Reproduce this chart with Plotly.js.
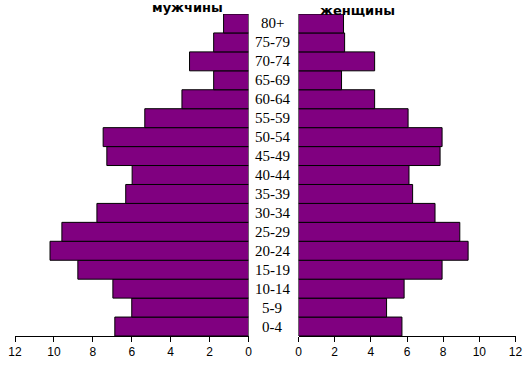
<!DOCTYPE html>
<html>
<head>
<meta charset="utf-8">
<script src="https://cdn.plot.ly/plotly-3.0.1.min.js"></script>
<style>html,body{margin:0;padding:0;background:#fff;}#chart{width:529px;height:369px;}</style>
</head>
<body>
<div id="chart"></div>
<script>
const ageGroups = ["0-4","5-9","10-14","15-19","20-24","25-29","30-34","35-39","40-44","45-49","50-54","55-59","60-64","65-69","70-74","75-79","80+"];
const men   = [6.87, 6.0, 6.97, 8.77, 10.2, 9.59, 7.79, 6.31, 5.98, 7.28, 7.47, 5.33, 3.42, 1.79, 3.03, 1.79, 1.28];
const women = [5.72, 4.87, 5.84, 7.94, 9.38, 8.92, 7.55, 6.31, 6.11, 7.83, 7.94, 6.06, 4.21, 2.38, 4.21, 2.55, 2.49];
const xTicks = [0, 2, 4, 6, 8, 10, 12];
const menTitle = "мужчины";
const womenTitle = "женщины";

const W = 529;
const barStyle = {color: "#800080", line: {color: "#000", width: 1}};

const traces = [
  {type: "bar", orientation: "h", y: ageGroups, x: men, xaxis: "x", yaxis: "y", marker: barStyle, hoverinfo: "skip"},
  {type: "bar", orientation: "h", y: ageGroups, x: women, xaxis: "x2", yaxis: "y", marker: barStyle, hoverinfo: "skip"}
];

const axisCommon = {
  tickvals: xTicks, ticktext: xTicks.map(String),
  ticks: "outside", ticklen: 5, tickcolor: "#000", tickwidth: 1,
  showline: true, linecolor: "#000", linewidth: 1,
  showgrid: false, zeroline: false,
  tickfont: {family: "Liberation Sans, Arial, sans-serif", size: 12, color: "#000"},
  fixedrange: true
};

const annotations = ageGroups.map(a => ({
  x: 272 / W, xref: "paper", y: a, yref: "y", text: a, showarrow: false,
  xanchor: "center", yanchor: "middle",
  font: {family: "Liberation Serif, Times New Roman, serif", size: 15, color: "#000"}
}));
annotations.push({x: 150 / W, xref: "paper", y: 1, yref: "paper", yshift: 7, yanchor: "middle",
  text: "<b>" + menTitle + "</b>", showarrow: false,
  font: {family: "DejaVu Sans, Verdana, sans-serif", size: 13, color: "#000"}});
annotations.push({x: 397 / W, xref: "paper", y: 1, yref: "paper", yshift: 4, yanchor: "middle",
  text: "<b>" + womenTitle + "</b>", showarrow: false,
  font: {family: "DejaVu Sans, Verdana, sans-serif", size: 13, color: "#000"}});

const layout = {
  width: 529, height: 369,
  margin: {l: 0, r: 0, t: 14, b: 33},
  paper_bgcolor: "#fff", plot_bgcolor: "#fff",
  showlegend: false,
  bargap: 0,
  xaxis: Object.assign({}, axisCommon, {domain: [15 / W, 248.5 / W], range: [12, 0], anchor: "y"}),
  xaxis2: Object.assign({}, axisCommon, {domain: [298.5 / W, 515.5 / W], range: [0, 12], anchor: "y"}),
  yaxis: {type: "category", range: [-0.5, 16.5], showticklabels: false, showgrid: false, zeroline: false, showline: false, ticks: "", fixedrange: true},
  annotations: annotations
};

Plotly.newPlot("chart", traces, layout, {displayModeBar: false, staticPlot: true});
</script>
</body>
</html>
